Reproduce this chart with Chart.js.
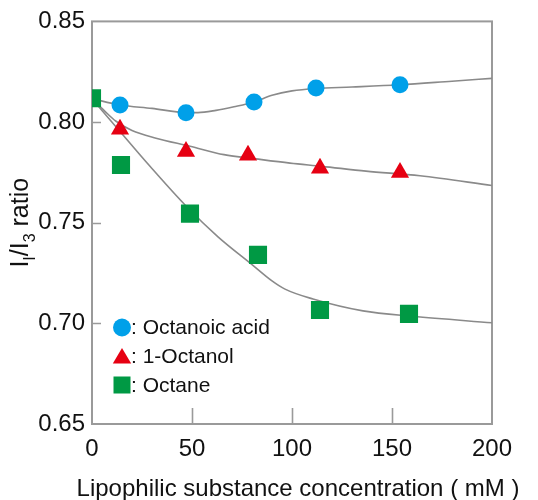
<!DOCTYPE html>
<html>
<head>
<meta charset="utf-8">
<script src="https://cdn.jsdelivr.net/npm/chart.js@4/dist/chart.umd.min.js"></script>
<style>
  html, body { margin: 0; padding: 0; background: #ffffff; }
  #wrap { width: 538px; height: 500px; }
</style>
</head>
<body>
<div id="wrap"><canvas id="c" width="538" height="500"></canvas></div>
<script>
// Measured points
const acidX = [14, 47, 81, 112, 154];
const acidY = [0.8085, 0.8046, 0.8100, 0.8169, 0.8185];
const octanolX = [14, 47, 78, 114, 154];
const octanolY = [0.7964, 0.7854, 0.7835, 0.7770, 0.7750];
const octaneX = [0, 14.5, 49, 83, 114, 158.5];
const octaneY = [0.8118, 0.7787, 0.7545, 0.7340, 0.7066, 0.7047];

// Fitted trend curves
const acidFitX = [0, 14, 30, 47, 53, 62, 71, 81, 90, 100, 112, 130, 154, 180, 200];
const acidFitY = [0.8116, 0.8085, 0.8068, 0.8047, 0.8047, 0.8058, 0.8076, 0.8100, 0.8133, 0.8155, 0.8167, 0.8174, 0.8185, 0.8203, 0.8217];
const octanolFitX = [0, 6, 12, 20, 32, 49, 66, 82, 99, 115, 137, 164, 200];
const octanolFitY = [0.8116, 0.8058, 0.8004, 0.7958, 0.7920, 0.7880, 0.7838, 0.7817, 0.7796, 0.7780, 0.7756, 0.7733, 0.7685];
const octaneFitX = [0, 14, 29, 47, 63, 80, 90, 96.5, 110.5, 135.5, 160.5, 200];
const octaneFitY = [0.8116, 0.7953, 0.7780, 0.7583, 0.7430, 0.7292, 0.7211, 0.7170, 0.7121, 0.7062, 0.7035, 0.7003];

// Axis ticks
const xTicks = [0, 50, 100, 150, 200];
const yTicks = [0.65, 0.70, 0.75, 0.80, 0.85];

const seriesNames = ['Octanoic acid', '1-Octanol', 'Octane'];
const seriesColors = ['#00a0e9', '#e60012', '#009944'];

const FONT = '"Liberation Sans", Arial, sans-serif';
const TEXT = '#111111';
const AXIS = '#9a9a9a';

const pts = (xs, ys) => xs.map((x, i) => ({ x: x, y: ys[i] }));

function curve(xs, ys) {
  return {
    data: pts(xs, ys),
    showLine: true,
    borderColor: '#8a8a8a',
    borderWidth: 1.6,
    pointRadius: 0,
    cubicInterpolationMode: 'monotone',
    order: 2
  };
}

function marks(xs, ys, color, style, radius) {
  return {
    data: pts(xs, ys),
    showLine: false,
    pointStyle: style,
    pointRadius: radius,
    pointBackgroundColor: color,
    pointBorderWidth: 0,
    pointBorderColor: color,
    order: 1
  };
}

// Frame and inward tick marks
const framePlugin = {
  id: 'frame',
  beforeDatasetsDraw(chart) {
    const { ctx, chartArea: a, scales } = chart;
    ctx.save();
    ctx.strokeStyle = AXIS;
    ctx.lineWidth = 2;
    ctx.strokeRect(a.left, a.top, a.right - a.left, a.bottom - a.top);
    ctx.lineWidth = 1.6;
    ctx.beginPath();
    xTicks.slice(1, -1).forEach(v => {
      const px = Math.round(scales.x.getPixelForValue(v)) + 0.5;
      ctx.moveTo(px, a.bottom);
      ctx.lineTo(px, a.bottom - 16);
    });
    yTicks.slice(1, -1).forEach(v => {
      const py = Math.round(scales.y.getPixelForValue(v)) + 0.5;
      ctx.moveTo(a.left, py);
      ctx.lineTo(a.left + 9, py);
    });
    ctx.stroke();
    ctx.restore();
  }
};

// Axis titles (y title carries subscripts) and the in-plot key
const labelPlugin = {
  id: 'labels',
  afterDraw(chart) {
    const { ctx, chartArea: a } = chart;
    ctx.save();
    ctx.fillStyle = TEXT;
    ctx.textBaseline = 'alphabetic';

    // x title
    ctx.font = '24px ' + FONT;
    ctx.textAlign = 'center';
    ctx.fillText('Lipophilic substance concentration ( mM )', 298, 496);

    // y title: I_I/I_3 ratio
    const parts = [
      { t: 'I', sub: false },
      { t: 'I', sub: true },
      { t: '/I', sub: false },
      { t: '3', sub: true },
      { t: ' ratio', sub: false }
    ];
    const mainF = '25px ' + FONT, subF = '16px ' + FONT;
    let total = 0;
    parts.forEach(p => { ctx.font = p.sub ? subF : mainF; p.w = ctx.measureText(p.t).width; total += p.w; });
    ctx.translate(28, (a.top + a.bottom) / 2);
    ctx.rotate(-Math.PI / 2);
    ctx.textAlign = 'left';
    let cx = -total / 2;
    parts.forEach(p => {
      ctx.font = p.sub ? subF : mainF;
      ctx.fillText(p.t, cx, p.sub ? 7 : 0);
      cx += p.w;
    });
    ctx.restore();

    // key
    ctx.save();
    const kx = 122, ky = [327.5, 356, 385];
    ctx.font = '21px ' + FONT;
    ctx.textBaseline = 'middle';
    ctx.textAlign = 'left';
    // circle
    ctx.fillStyle = seriesColors[0];
    ctx.beginPath(); ctx.arc(kx, ky[0], 9, 0, Math.PI * 2); ctx.fill();
    // triangle
    ctx.fillStyle = seriesColors[1];
    ctx.beginPath();
    ctx.moveTo(kx, ky[1] - 8); ctx.lineTo(kx + 9.2, ky[1] + 7.5); ctx.lineTo(kx - 9.2, ky[1] + 7.5);
    ctx.closePath(); ctx.fill();
    // square
    ctx.fillStyle = seriesColors[2];
    ctx.fillRect(kx - 8.5, ky[2] - 8.5, 17, 17);
    ctx.fillStyle = TEXT;
    seriesNames.forEach((n, i) => ctx.fillText(': ' + n, 131, ky[i] + 1));
    ctx.restore();
  }
};

new Chart(document.getElementById('c'), {
  type: 'scatter',
  data: {
    datasets: [
      curve(acidFitX, acidFitY),
      curve(octanolFitX, octanolFitY),
      curve(octaneFitX, octaneFitY),
      marks(acidX, acidY, seriesColors[0], 'circle', 8.5),
      marks(octanolX, octanolY, seriesColors[1], 'triangle', 10.5),
      marks(octaneX, octaneY, seriesColors[2], 'rect', 12.8)
    ]
  },
  options: {
    responsive: false,
    animation: false,
    events: [],
    layout: { padding: { top: 19, right: 46, left: 0, bottom: 0 } },
    plugins: { legend: { display: false }, tooltip: { enabled: false } },
    scales: {
      x: {
        type: 'linear',
        min: 0, max: 200,
        afterBuildTicks(s) { s.ticks = xTicks.map(v => ({ value: v })); },
        afterFit(s) { s.height = 76; },
        grid: { display: false, drawTicks: false },
        border: { display: false },
        ticks: { color: TEXT, font: { family: FONT, size: 24 }, padding: 11, maxRotation: 0 }
      },
      y: {
        type: 'linear',
        min: 0.65, max: 0.85,
        afterBuildTicks(s) { s.ticks = yTicks.map(v => ({ value: v })); },
        afterFit(s) { s.width = 92; },
        grid: { display: false, drawTicks: false },
        border: { display: false },
        ticks: { color: TEXT, font: { family: FONT, size: 24 }, padding: 7, callback: v => v.toFixed(2) }
      }
    }
  },
  plugins: [framePlugin, labelPlugin]
});
</script>
</body>
</html>
